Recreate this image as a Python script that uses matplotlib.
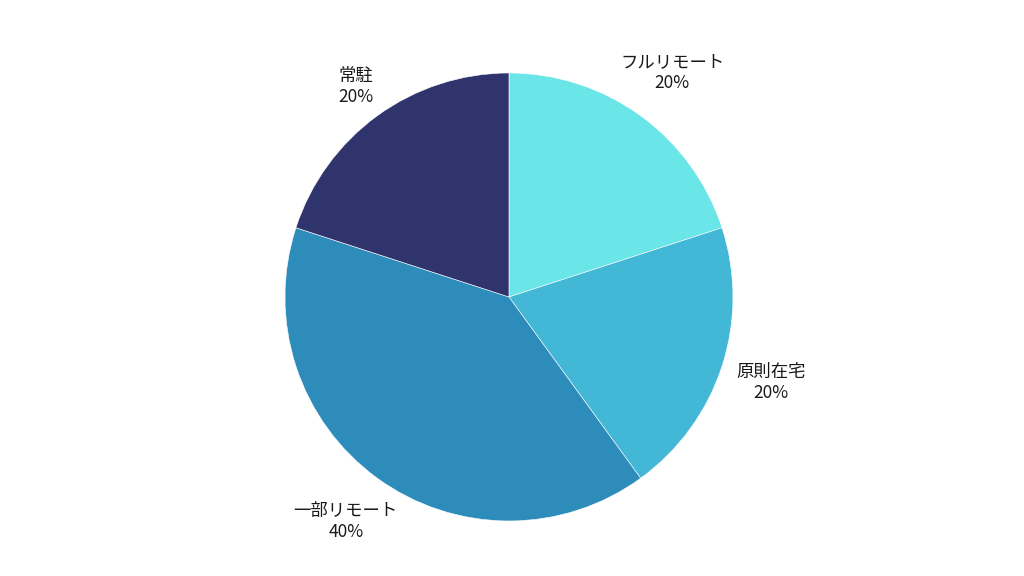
import matplotlib
matplotlib.use('Agg')
import matplotlib.pyplot as plt

plt.rcParams['font.family'] = ['Noto Sans CJK JP', 'DejaVu Sans']

labels = ['フルリモート', '原則在宅', '一部リモート', '常駐']
values = [20, 20, 40, 20]
colors = ['#6ae5e8', '#43b7d6', '#2e8cbb', '#30346c']
label_dist = [1.24, 1.23, 1.24, 1.16]

fig = plt.figure(figsize=(10.24, 5.76), dpi=100)
ax = fig.add_axes([0.2783, 0.0955, 0.4375, 0.7778])

total = sum(values)
texts = [f'{l}\n{v / total * 100:.0f}%' for l, v in zip(labels, values)]

wedges, txts = ax.pie(values, labels=texts, colors=colors, startangle=90,
                      counterclock=False, labeldistance=1.0,
                      wedgeprops={'edgecolor': 'white', 'linewidth': 0.4},
                      textprops={'fontsize': 12.5, 'color': '#1a1a1a'})
# push each label out along its slice direction
for t, d in zip(txts, label_dist):
    x, y = t.get_position()
    t.set_position((x * d, y * d))
    t.set_horizontalalignment('center')
    t.set_verticalalignment('center')
ax.set_xlim(-1, 1)
ax.set_ylim(-1, 1)
ax.set_aspect('equal')

fig.savefig('out.png', dpi=100)
